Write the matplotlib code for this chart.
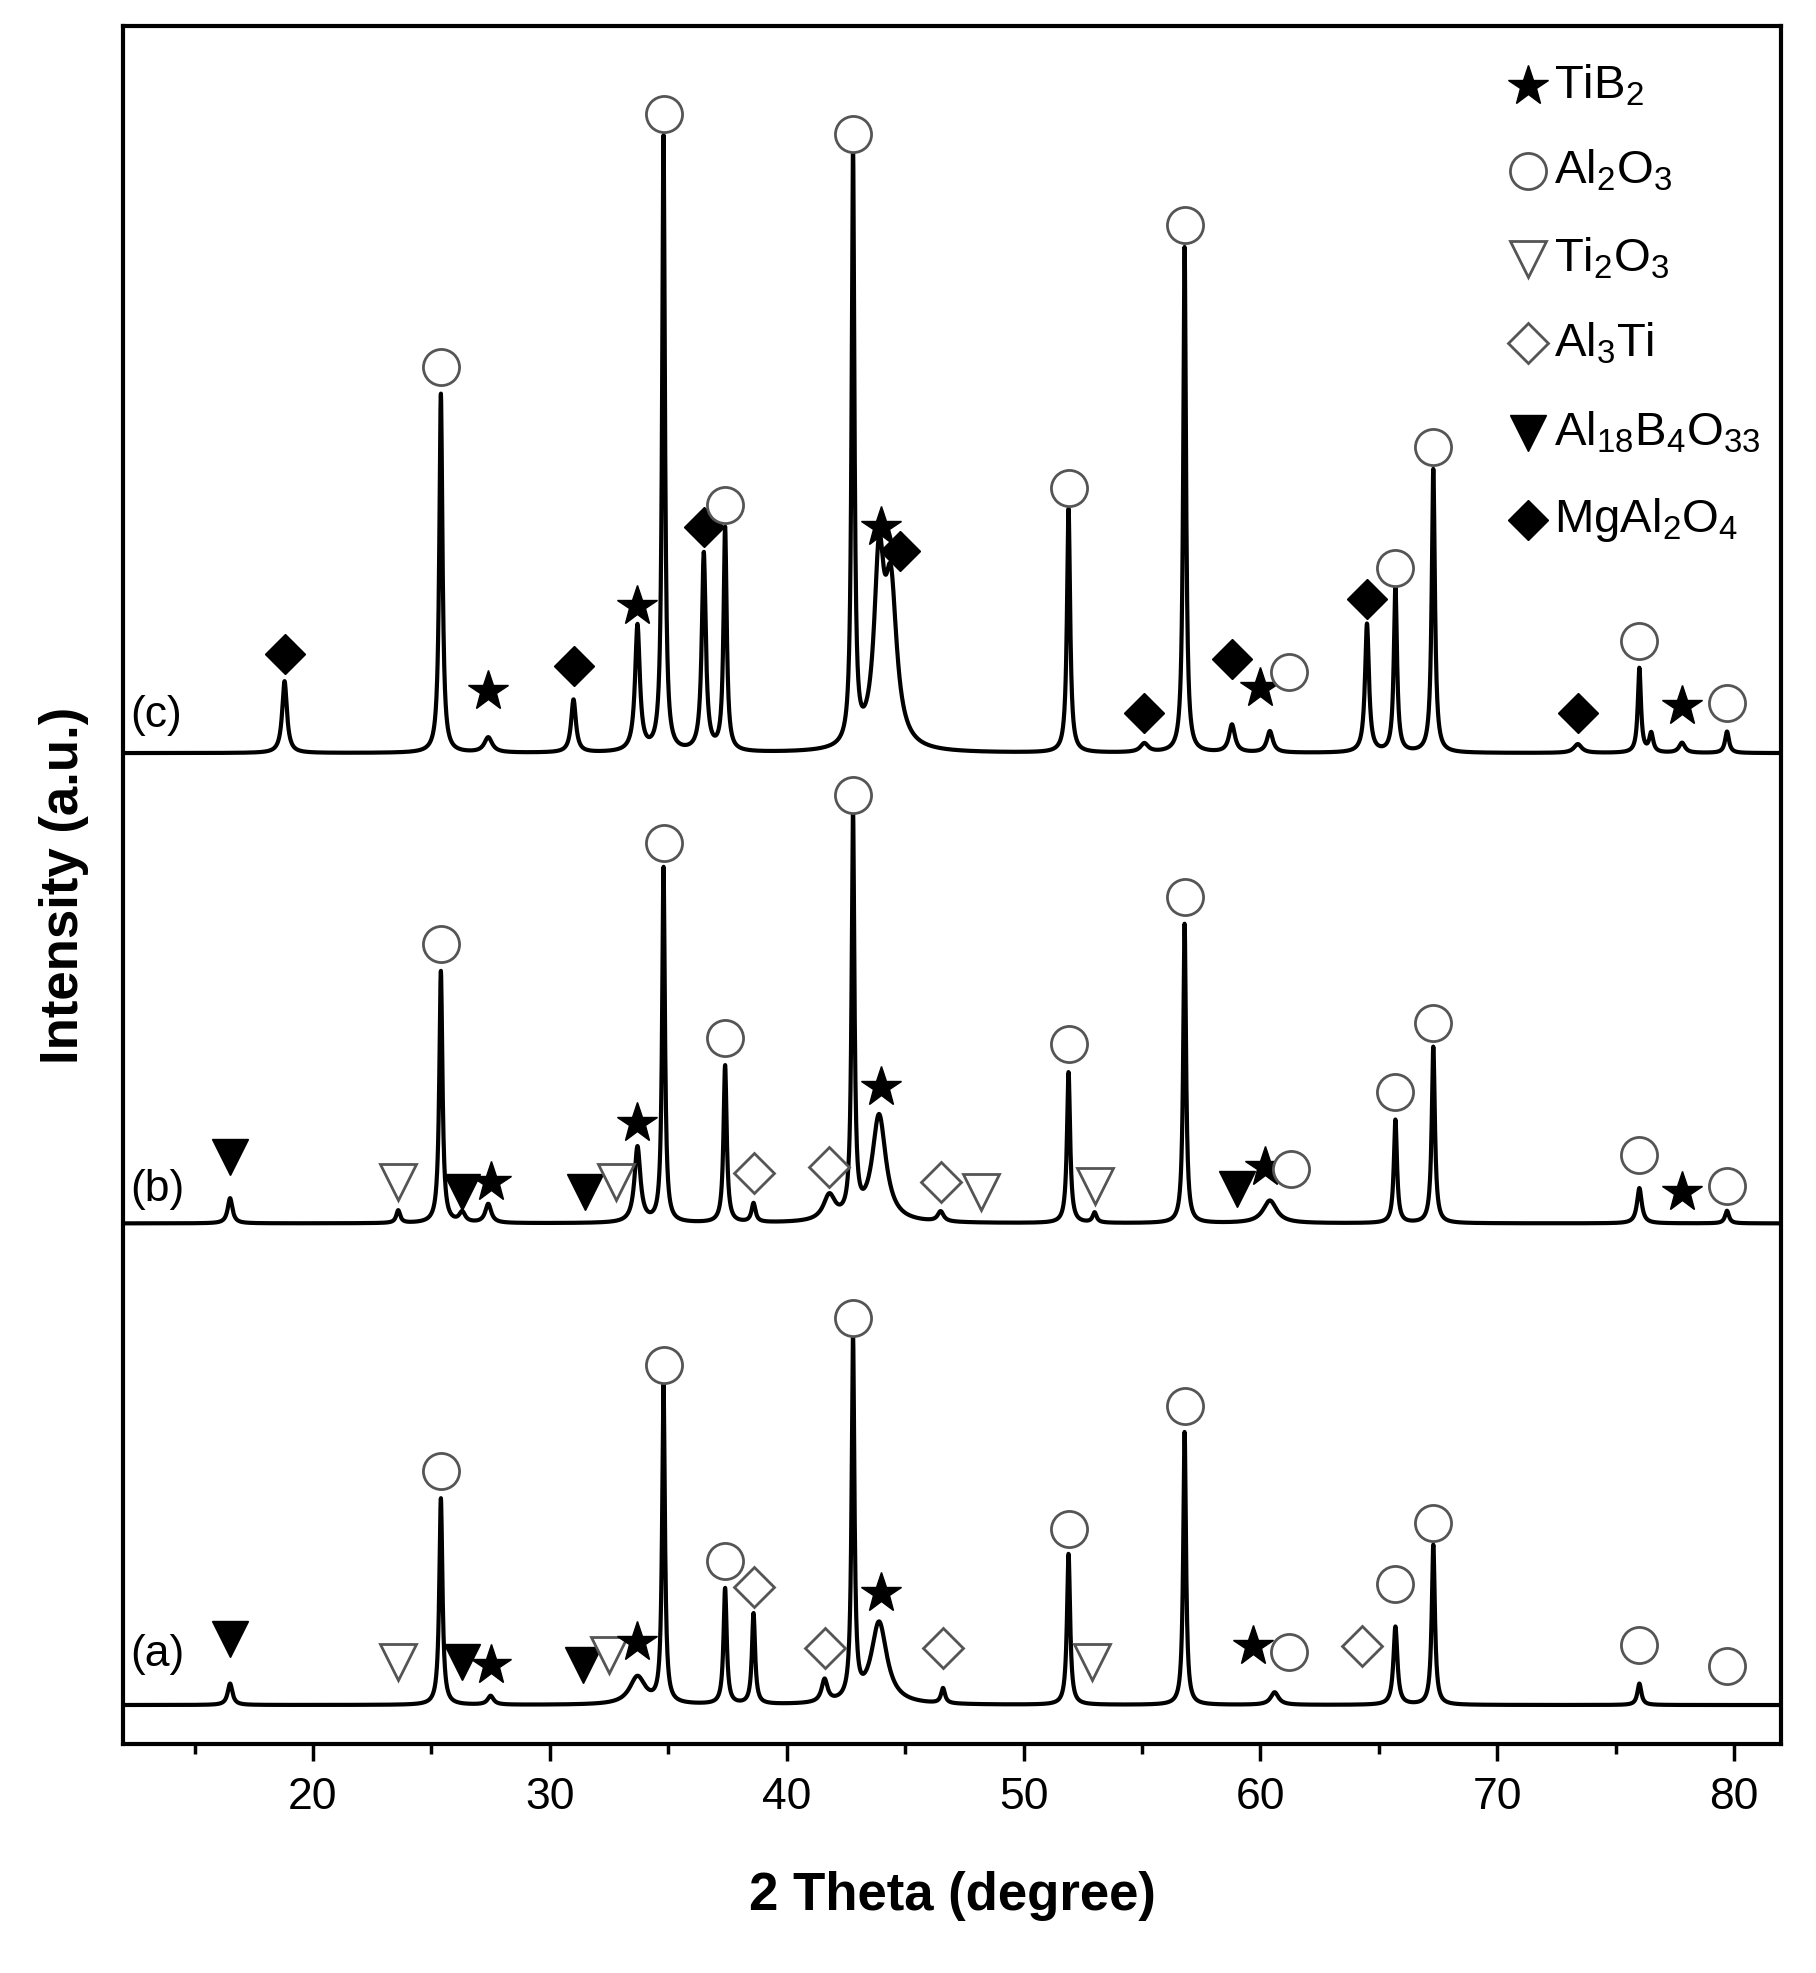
import numpy as np
import matplotlib
matplotlib.use("Agg")
import matplotlib.pyplot as plt

plt.rcParams['font.family'] = ['Liberation Sans', 'DejaVu Sans']
plt.rcParams['mathtext.fontset'] = 'custom'
plt.rcParams['mathtext.rm'] = 'Liberation Sans'
plt.rcParams['mathtext.it'] = 'Liberation Sans:italic'
plt.rcParams['mathtext.bf'] = 'Liberation Sans:bold'

# ---- data (intensity in arbitrary units) ----
base_a, base_b, base_c = 31, 413, 786
# pattern (c)
pos_c = [18.8, 25.4, 27.4, 31.0, 33.7, 34.8, 36.5, 37.4, 42.8, 43.9, 44.4, 51.9, 55.1, 56.8, 58.8, 60.4, 64.5, 65.7, 67.3, 73.4, 76.0, 76.5, 77.8, 79.7]
hgt_c = [57, 285, 12, 42, 100, 489, 157, 177, 472, 140, 120, 194, 7, 402, 22, 17, 102, 132, 225, 7, 67, 15, 8, 17]
wid_c = [0.12, 0.08, 0.2, 0.12, 0.12, 0.07, 0.1, 0.08, 0.07, 0.25, 0.3, 0.08, 0.2, 0.07, 0.15, 0.15, 0.1, 0.08, 0.08, 0.2, 0.08, 0.1, 0.15, 0.1]
# pattern (b)
pos_b = [16.5, 23.6, 25.4, 26.3, 27.4, 33.7, 34.8, 37.4, 38.6, 41.8, 42.8, 43.9, 46.5, 51.9, 53.0, 56.8, 60.4, 65.7, 67.3, 76.0, 79.7]
hgt_b = [20, 10, 200, 8, 15, 60, 282, 125, 15, 20, 320, 85, 8, 120, 8, 238, 18, 82, 140, 28, 10]
wid_b = [0.12, 0.1, 0.08, 0.15, 0.15, 0.15, 0.07, 0.08, 0.1, 0.3, 0.07, 0.35, 0.15, 0.08, 0.1, 0.07, 0.35, 0.08, 0.08, 0.12, 0.1]
# pattern (a)
pos_a = [16.5, 25.4, 27.5, 33.7, 34.8, 37.4, 38.6, 41.6, 42.8, 43.9, 46.6, 51.9, 56.8, 60.6, 65.7, 67.3, 76.0]
hgt_a = [17, 164, 7, 22, 252, 92, 72, 18, 287, 65, 12, 120, 217, 10, 62, 127, 17]
wid_a = [0.12, 0.08, 0.15, 0.4, 0.07, 0.08, 0.08, 0.15, 0.07, 0.4, 0.1, 0.08, 0.07, 0.2, 0.1, 0.08, 0.1]

# phase marker positions (2theta, intensity)
c_mgal2o4 = ([18.8, 31.0, 36.5, 44.8, 55.1, 58.8, 64.5, 73.4], [865, 855, 965, 946, 818, 861, 908, 818])
c_tib2 = ([27.4, 33.7, 44.0, 60.0, 77.8], [835, 903, 965, 838, 823])
c_al2o3 = ([25.4, 34.8, 37.4, 42.8, 51.9, 56.8, 61.2, 65.7, 67.3, 76.0, 79.7], [1092, 1293, 983, 1277, 996, 1205, 850, 933, 1029, 875, 826])

b_al18 = ([16.5, 26.3, 31.5, 59.0], [466, 438, 438, 440])
b_ti2o3 = ([23.6, 32.8, 48.2, 53.0], [446, 446, 438, 443])
b_al3ti = ([38.6, 41.8, 46.5], [453, 458, 446])
b_tib2 = ([27.5, 33.7, 44.0, 60.2, 77.8], [446, 493, 521, 458, 438])
b_al2o3 = ([25.4, 34.8, 37.4, 42.8, 51.9, 56.8, 61.3, 65.7, 67.3, 76.0, 79.7], [635, 715, 560, 753, 555, 672, 456, 517, 572, 467, 443])

a_al18 = ([16.5, 26.3, 31.4], [83, 65, 63])
a_ti2o3 = ([23.6, 32.5, 52.9], [65, 71, 65])
a_al3ti = ([38.6, 41.6, 46.6, 64.3], [125, 76, 76, 78])
a_tib2 = ([27.5, 33.7, 44.0, 59.7], [63, 81, 120, 78])
a_al2o3 = ([25.4, 34.8, 37.4, 42.8, 51.9, 56.8, 61.2, 65.7, 67.3, 76.0, 79.7], [217, 301, 145, 338, 171, 268, 73, 127, 175, 79, 62])

legend_labels = ["TiB$_2$", "Al$_2$O$_3$", "Ti$_2$O$_3$", "Al$_3$Ti", "Al$_{18}$B$_4$O$_{33}$", "MgAl$_2$O$_4$"]
sample_labels = ["(a)", "(b)", "(c)"]

x = np.linspace(12, 82, 7000)

def pattern(base, pos, hgt, wid):
    y = np.full_like(x, float(base))
    for p, h, w in zip(pos, hgt, wid):
        y += h / (1 + ((x - p) / w) ** 2)
    return y

fig = plt.figure(figsize=(18.16, 19.73), dpi=100)
ax = fig.add_axes([0.068, 0.116, 0.913, 0.871])
for b, p, h, w in [(base_a, pos_a, hgt_a, wid_a), (base_b, pos_b, hgt_b, wid_b), (base_c, pos_c, hgt_c, wid_c)]:
    ax.plot(x, pattern(b, p, h, w), color="black", lw=3)

ms = 26
gray = "#555555"
styles = {
    "tib2": dict(marker="*", color="black", ms=ms + 4, mec="black"),
    "al2o3": dict(marker="o", mfc="white", mec=gray, ms=ms, mew=2),
    "ti2o3": dict(marker="v", mfc="white", mec=gray, ms=ms, mew=2),
    "al3ti": dict(marker="D", mfc="white", mec=gray, ms=ms - 6, mew=2),
    "al18": dict(marker="v", color="black", ms=ms, mec="black"),
    "mg": dict(marker="D", color="black", ms=ms - 6, mec="black"),
}
groups = [(c_mgal2o4, "mg"), (c_tib2, "tib2"), (c_al2o3, "al2o3"),
          (b_al18, "al18"), (b_ti2o3, "ti2o3"), (b_al3ti, "al3ti"), (b_tib2, "tib2"), (b_al2o3, "al2o3"),
          (a_al18, "al18"), (a_ti2o3, "ti2o3"), (a_al3ti, "al3ti"), (a_tib2, "tib2"), (a_al2o3, "al2o3")]
for (gx, gy), key in groups:
    ax.plot(gx, gy, ls="none", zorder=3, **styles[key])

for lab, yy in zip(sample_labels, [71, 440, 816]):
    ax.text(12.3, yy, lab, fontsize=32, va="center", ha="left")

leg_keys = ["tib2", "al2o3", "ti2o3", "al3ti", "al18", "mg"]
leg_y = [1315, 1248, 1178, 1111, 1040, 971]
for k, lab, yy in zip(leg_keys, legend_labels, leg_y):
    ax.plot([71.3], [yy], ls="none", **styles[k])
    ax.text(72.4, yy, lab, fontsize=34, va="center", ha="left")

ax.set_xlim(12, 82)
ax.set_ylim(0, 1363)
ax.set_yticks([])
ax.set_xticks(range(20, 81, 10))
ax.set_xticks(range(15, 81, 10), minor=True)
ax.tick_params(axis="x", which="major", labelsize=32, length=12, width=2.5, direction="out", pad=12)
ax.tick_params(axis="x", which="minor", length=7, width=2.5, direction="out")
for s in ax.spines.values():
    s.set_linewidth(3)
ax.set_xlabel("2 Theta (degree)", fontsize=38, fontweight="bold", labelpad=38)
ax.set_ylabel("Intensity (a.u.)", fontsize=38, fontweight="bold", labelpad=25)
fig.savefig("out.png", dpi=100, facecolor="white")
